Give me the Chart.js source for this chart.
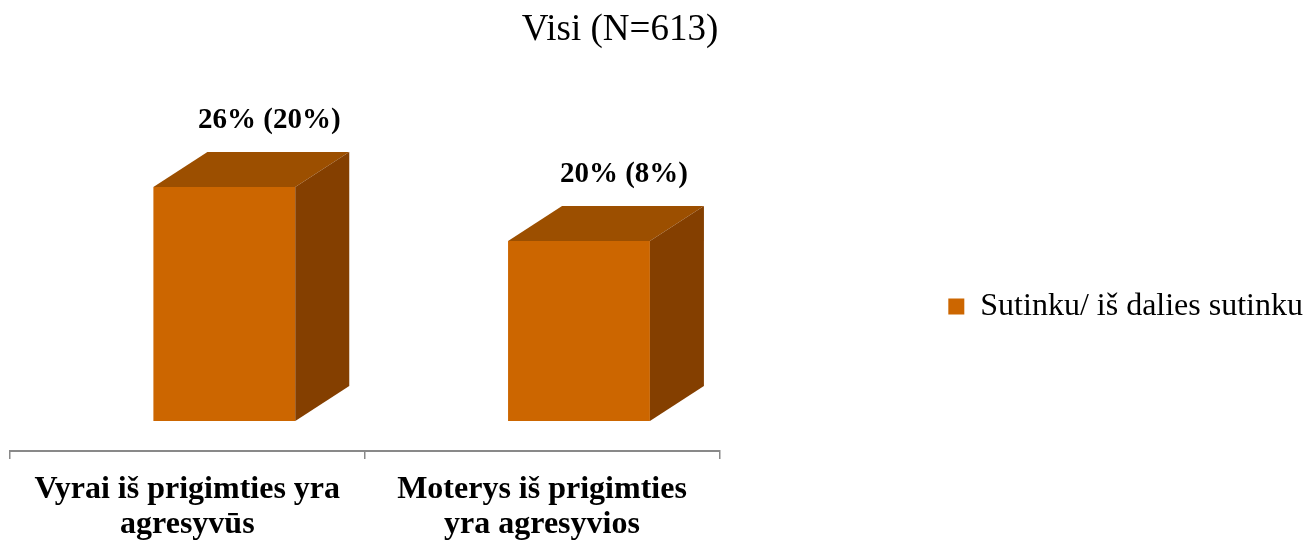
<!DOCTYPE html>
<html>
<head>
<meta charset="utf-8">
<script src="https://cdn.jsdelivr.net/npm/chart.js@4.4.0/dist/chart.umd.min.js"></script>
<style>
html, body { margin: 0; padding: 0; background: #fff; }
#wrap { width: 1307px; height: 540px; position: relative; }
</style>
</head>
<body>
<div id="wrap"><canvas id="chart"></canvas></div>
<script>
// chart data
const chartTitle = 'Visi (N=613)';
const categories = [
    ['Vyrai iš prigimties yra', 'agresyvūs'],
    ['Moterys iš prigimties', 'yra agresyvios']
];
const seriesName = 'Sutinku/ iš dalies sutinku';
const values = [26, 20];
const prevValues = [20, 8];

const serif = "'Liberation Serif', 'Times New Roman', serif";

// 3d look: bars sit back from the axis, then top + side faces
const shift = { x: 37, y: -30 };
const depth = { x: 54, y: -35 };

const bar3d = {
    id: 'bar3d',
    beforeDatasetsDraw(chart) {
        chart.ctx.save();
        chart.ctx.translate(shift.x, shift.y);
    },
    afterDatasetsDraw(chart) {
        let ctx = chart.ctx;
        chart.getDatasetMeta(0).data.forEach((bar, i) => {
            let l = bar.x - bar.width / 2;
            let r = bar.x + bar.width / 2;
            let t = bar.y;
            let b = bar.base;

            ctx.fillStyle = '#9c4f00';
            ctx.beginPath();
            ctx.moveTo(l, t);
            ctx.lineTo(l + depth.x, t + depth.y);
            ctx.lineTo(r + depth.x, t + depth.y);
            ctx.lineTo(r, t);
            ctx.closePath();
            ctx.fill();

            ctx.fillStyle = '#843f00';
            ctx.beginPath();
            ctx.moveTo(r, t);
            ctx.lineTo(r + depth.x, t + depth.y);
            ctx.lineTo(r + depth.x, b + depth.y);
            ctx.lineTo(r, b);
            ctx.closePath();
            ctx.fill();

            ctx.fillStyle = '#000';
            ctx.font = 'bold 29px ' + serif;
            ctx.textAlign = 'center';
            ctx.textBaseline = 'middle';
            ctx.fillText(values[i] + '% (' + prevValues[i] + '%)', bar.x + 45, t - 66);
        });
        ctx.restore();
    }
};

const titlePlugin = {
    id: 'titleText',
    afterDraw(chart) {
        let ctx = chart.ctx;
        ctx.save();
        ctx.fillStyle = '#000';
        ctx.font = '37px ' + serif;
        ctx.textAlign = 'center';
        ctx.textBaseline = 'middle';
        ctx.fillText(chartTitle, 620, 30);
        ctx.restore();
    }
};

let ctx = document.getElementById('chart');

let data = {
    labels: categories,
    datasets: [{
        label: seriesName,
        data: values,
        backgroundColor: '#cc6600',
        borderWidth: 0,
        barPercentage: 0.4,
        categoryPercentage: 1.0
    }]
};

let options = {
    maintainAspectRatio: false,
    responsive: true,
    animation: false,
    layout: {
        padding: { top: 73, left: 10, right: -6, bottom: 0 }
    },
    plugins: {
        title: { display: false },
        tooltip: { enabled: false },
        legend: {
            display: true,
            position: 'right',
            labels: {
                boxWidth: 16,
                boxHeight: 16,
                padding: 4,
                color: '#000',
                font: { family: serif, size: 32 }
            }
        }
    },
    scales: {
        x: {
            grid: {
                display: true,
                offset: true,
                drawOnChartArea: false,
                drawTicks: true,
                tickLength: 8,
                color: '#898989',
                lineWidth: 1.5
            },
            border: { display: true, color: '#898989', width: 2 },
            ticks: {
                color: '#000',
                padding: 13,
                maxRotation: 0,
                autoSkip: false,
                font: { family: serif, size: 32, weight: 'bold', lineHeight: 1.1 }
            },
            afterFit(scale) {
                scale.height = 89;
            }
        },
        y: {
            // hidden, only keeps a gap between the plot and the legend
            display: false,
            position: 'right',
            min: 0,
            max: 42,
            afterFit(scale) {
                scale.width = 225;
            }
        }
    }
};

let barChart = new Chart(ctx, {
    type: 'bar',
    data: data,
    options: options,
    plugins: [bar3d, titlePlugin]
});
</script>
</body>
</html>
